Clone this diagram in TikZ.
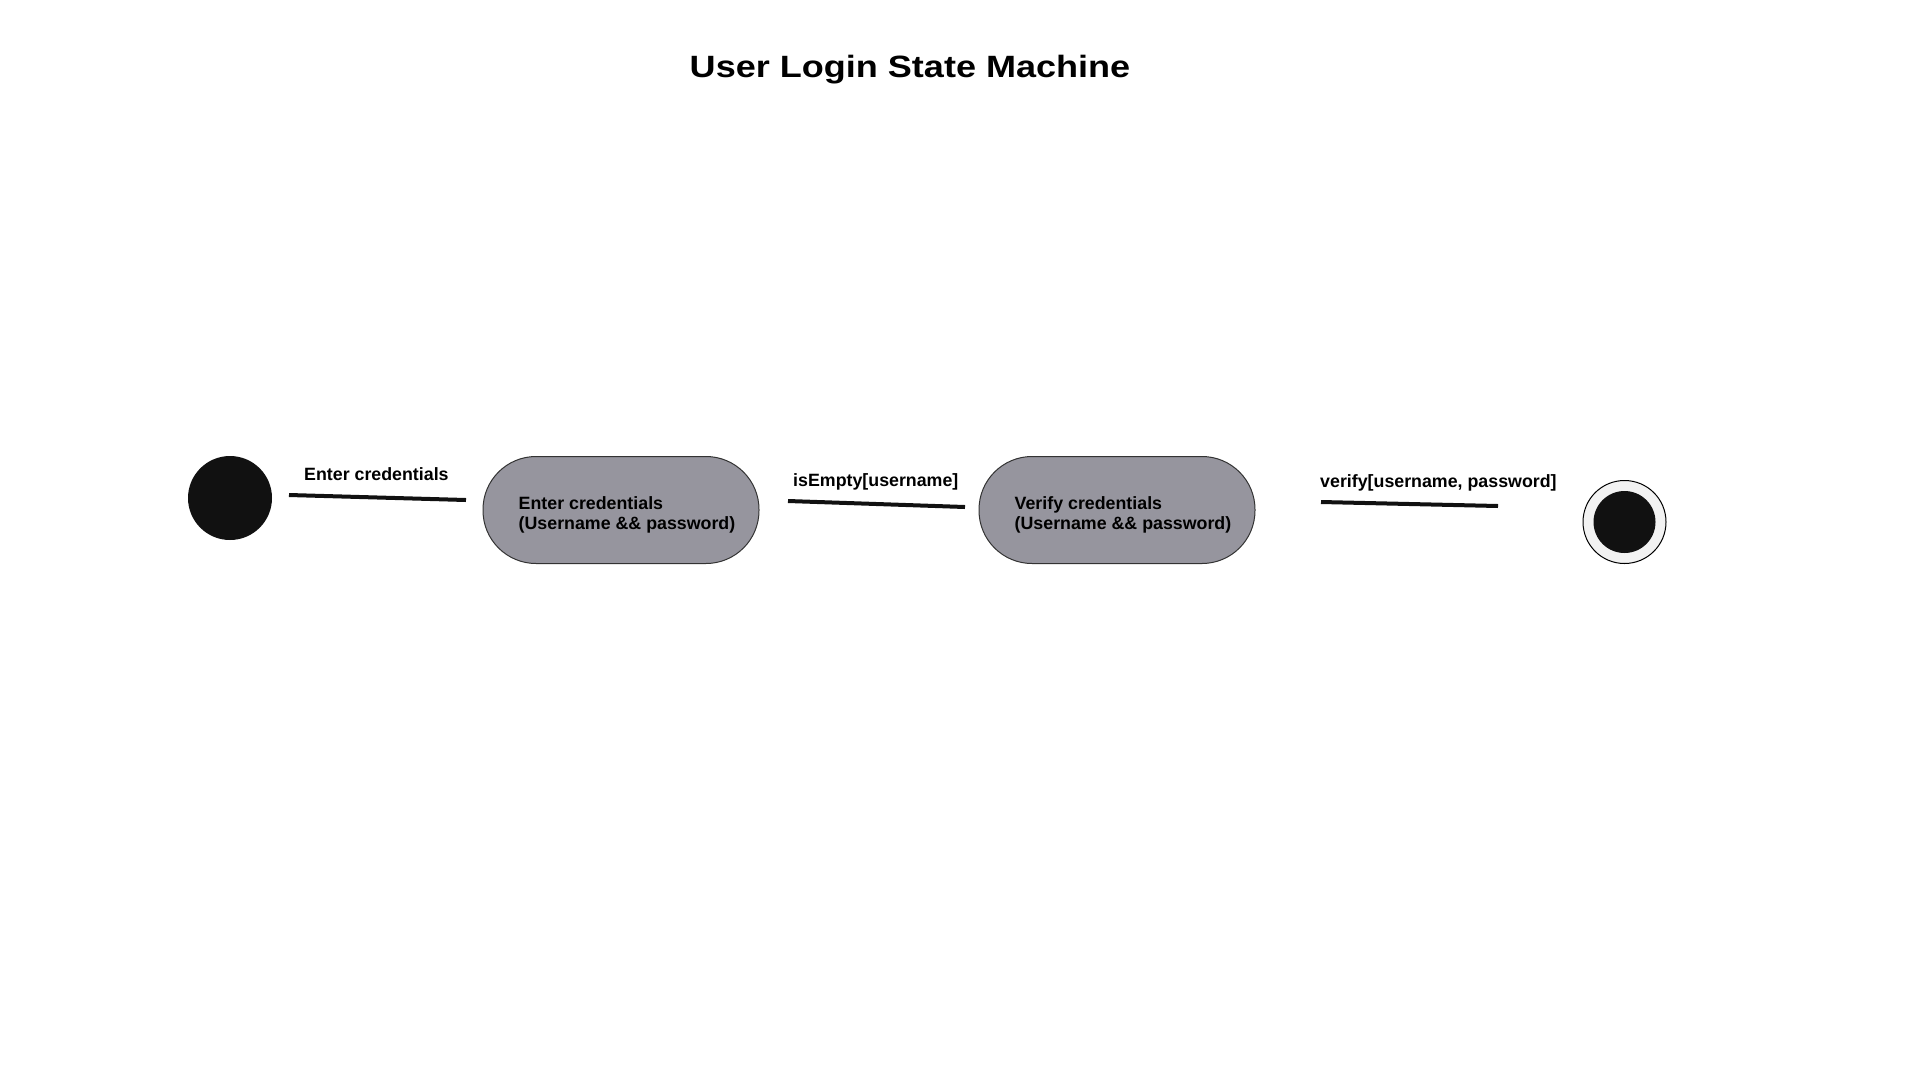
\documentclass[tikz,border=0pt]{standalone}
\usepackage{fontspec}
\setmainfont{Liberation Sans}
\newfontfamily\titlefont[FakeStretch=1.17]{Liberation Sans}
\definecolor{stategray}{HTML}{96959E}
\definecolor{dotblack}{HTML}{111111}
\definecolor{ringgray}{HTML}{F2F2F2}

\begin{document}
\begin{tikzpicture}[x=1pt,y=-1pt,
        state/.style={draw=black!80, line width=1pt, fill=stategray, rounded corners=53pt,
            minimum width=276pt, minimum height=107pt},
        statetext/.style={align=left, inner sep=0pt, font=\bfseries\fontsize{17.8}{20}\selectfont},
        trans/.style={draw=dotblack, line width=4pt},
        translabel/.style={anchor=base west, inner sep=0pt, font=\bfseries\fontsize{17.8}{20}\selectfont}]
        \path[use as bounding box] (0,0) rectangle (1920,1080);
        
        \node[anchor=base, inner sep=0pt, font=\titlefont\bfseries\fontsize{30.8}{36}\selectfont] (title) at (910,77) {User Login State Machine};
        
        %%狀態
        \node[circle, fill=dotblack, minimum size=84pt, inner sep=0pt] (init) at (230,498) {};
        \node[state] (enter) at (621,510) {};
        \node[statetext] (entertext) at ([xshift=6pt,yshift=-5pt]enter.center) {Enter credentials\\(Username \&\& password)};
        \node[state] (verify) at (1117,510) {};
        \node[statetext] (verifytext) at ([xshift=6pt,yshift=-5pt]verify.center) {Verify credentials\\(Username \&\& password)};
        \node[circle, draw=black, line width=1pt, fill=ringgray, minimum size=83pt, inner sep=0pt] (final) at (1624.5,522) {};
        \node[circle, fill=dotblack, minimum size=62pt, inner sep=0pt] (finaldot) at (final.center) {};
        
        %%轉移線的兩端
        \coordinate (Tstart1) at (289,495);
        \coordinate (Tend1) at (466,500);
        \coordinate (Tstart2) at (788,501);
        \coordinate (Tend2) at (965,507);
        \coordinate (Tstart3) at (1321,502);
        \coordinate (Tend3) at (1498,506);
        
        \foreach \i/\lx/\ly/\t in 
        {1/304/480/Enter credentials,
            2/793/486/{isEmpty[username]},
            3/1320/487/{verify[username, password]}
        }
        {
            \draw[trans] (Tstart\i) -- (Tend\i);
            \node[translabel] (tlabel\i) at (\lx,\ly) {\t};
        };
\end{tikzpicture}
\end{document}
